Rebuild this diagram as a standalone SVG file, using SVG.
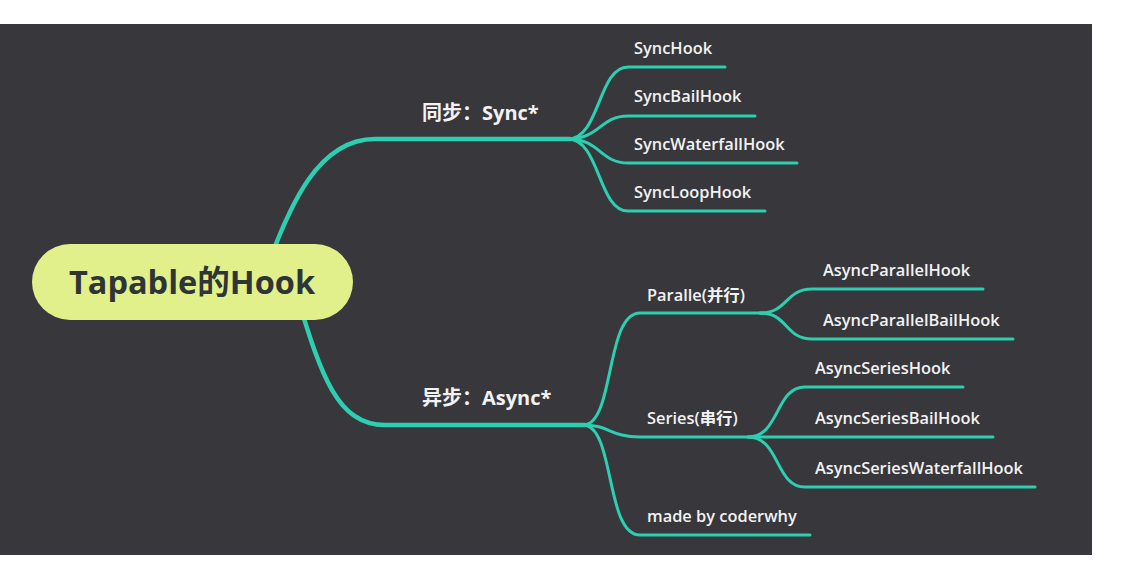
<svg xmlns="http://www.w3.org/2000/svg" width="1125" height="565" viewBox="0 0 1125 565">
<style>
.bg{fill:#38373c}
.main{fill:none;stroke:#2ccfb1;stroke-width:4.5;stroke-linecap:round}
.sub{fill:none;stroke:#2ccfb1;stroke-width:3;stroke-linecap:round}
.root{fill:#e1f08a}
.rt{font-family:"Open Sans","Noto Sans CJK SC",sans-serif;font-weight:700;font-size:32.5px;fill:#2f3537}
.l1{font-family:"Open Sans","Noto Sans CJK SC",sans-serif;font-weight:700;font-size:20px;fill:#f2f2f2}
.l2{font-family:"Open Sans","Noto Sans CJK SC",sans-serif;font-weight:600;font-size:16.4px;fill:#f2f2f2}
</style>
<rect x="0" y="0" width="1125" height="565" fill="#ffffff"/>
<rect class="bg" x="0" y="24" width="1092" height="531"/>
<g id="connectors">
<path class="main" d="M262 282 C290 200 320 139 375 139 L570 139"/>
<path class="main" d="M295 290 C320 370 335 425 385 425 L585 425"/>
<path class="sub" d="M568 139 C600 139 598 67 628 67 L725 67"/>
<path class="sub" d="M568 139 C600 139 600 116 628 116 L755 116"/>
<path class="sub" d="M568 139 C600 139 600 163 628 163 L797 163"/>
<path class="sub" d="M568 139 C600 139 598 211 628 211 L765 211"/>
<path class="sub" d="M583 425 C615 425 605 313 640 313 L765 313"/>
<path class="sub" d="M583 425 C610 425 610 437 640 437 L993 437"/>
<path class="sub" d="M583 425 C615 425 605 535 640 535 L810 535"/>
<path class="sub" d="M760 313 C788 313 785 289 812 289 L983 289"/>
<path class="sub" d="M760 313 C788 313 785 339 812 339 L1013 339"/>
<path class="sub" d="M748 437 C780 437 775 387 805 387 L963 387"/>
<path class="sub" d="M748 437 C780 437 775 487 805 487 L1035 487"/>
</g>
<g id="root">
<rect class="root" x="32" y="244" width="321" height="76" rx="38"/>
<text class="rt" x="192" y="294" text-anchor="middle">Tapable的Hook</text>
</g>
<g id="sync"><text class="l1" x="422" y="120">同步：Sync*</text></g>
<g id="async"><text class="l1" x="422" y="405">异步：Async*</text></g>
<g id="synchook"><text class="l2" x="634" y="54">SyncHook</text></g>
<g id="syncbailhook"><text class="l2" x="634" y="102">SyncBailHook</text></g>
<g id="syncwaterfallhook"><text class="l2" x="634" y="150">SyncWaterfallHook</text></g>
<g id="syncloophook"><text class="l2" x="634" y="198">SyncLoopHook</text></g>
<g id="paralle"><text class="l2" x="647" y="301">Paralle(并行)</text></g>
<g id="series"><text class="l2" x="647" y="424">Series(串行)</text></g>
<g id="madeby"><text class="l2" x="647" y="522">made by coderwhy</text></g>
<g id="asyncparallelhook"><text class="l2" x="823" y="276">AsyncParallelHook</text></g>
<g id="asyncparallelbailhook"><text class="l2" x="823" y="326">AsyncParallelBailHook</text></g>
<g id="asyncserieshook"><text class="l2" x="815" y="374">AsyncSeriesHook</text></g>
<g id="asyncseriesbailhook"><text class="l2" x="815" y="424">AsyncSeriesBailHook</text></g>
<g id="asyncserieswaterfallhook"><text class="l2" x="815" y="474">AsyncSeriesWaterfallHook</text></g>
</svg>
